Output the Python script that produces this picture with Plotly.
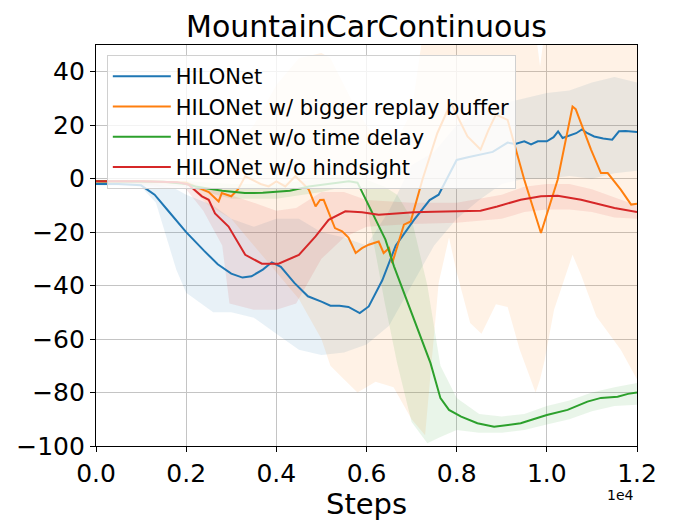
import plotly.graph_objects as go

# ---------------- data (steps in units of 1e4) ----------------
series_names = ["HILONet", "HILONet w/ bigger replay buffer",
                "HILONet w/o time delay", "HILONet w/o hindsight"]
series_colors = ["#1f77b4", "#ff7f0e", "#2ca02c", "#d62728"]
band_colors = ["rgba(31,119,180,0.1)", "rgba(255,127,14,0.1)",
               "rgba(44,160,44,0.1)", "rgba(214,39,40,0.1)"]

blue_x = [0, 0.05, 0.1, 0.13, 0.16, 0.2, 0.24, 0.27, 0.3, 0.325, 0.345, 0.37, 0.39, 0.41,
          0.44, 0.47, 0.5, 0.52, 0.54, 0.56, 0.585, 0.605, 0.635, 0.665, 0.705, 0.74, 0.76,
          0.8, 0.825, 0.85, 0.88, 0.913, 0.93, 0.95, 0.965, 0.98, 1.0, 1.015, 1.025, 1.035,
          1.05, 1.065, 1.078, 1.09, 1.105, 1.125, 1.145, 1.16, 1.175, 1.2]
blue_y = [-2, -2, -2.5, -6, -12, -20, -27, -32, -35.5, -37, -36.5, -34, -31.3, -33,
          -39, -44, -46, -47.5, -47.5, -48, -50.3, -47.8, -38, -25, -15.5, -8, -6,
          7, 8, 9, 10, 13.5, 13, 14, 12.8, 14, 14, 15.5, 17.7, 15.2,
          16, 17, 18.4, 17, 15.8, 15, 14.6, 17.7, 17.8, 17.5]
blue_band_x = [0, 0.1, 0.133, 0.178, 0.2, 0.26, 0.3, 0.35, 0.4, 0.45, 0.5, 0.55, 0.6,
               0.65, 0.7, 0.75, 0.8, 0.85, 0.9, 0.95, 1.0, 1.05, 1.1, 1.15, 1.2]
blue_lo = [-2.5, -3, -9, -34, -42.7, -50, -50, -52, -58, -64, -66, -65, -62,
           -55, -40, -25, -15, -8, -2, 0, 0, 1, 0, 2, 3]
blue_hi = [-1.5, -1, -2, -4, -6, -10, -15, -18, -15, -15, -20, -22, -25,
           -12, 5, 10, 20, 25, 28, 30, 32, 33, 36, 38, 36]

orange_x = [0, 0.1, 0.2, 0.22, 0.25, 0.272, 0.279, 0.3, 0.315, 0.331, 0.348, 0.365, 0.383,
            0.4, 0.42, 0.442, 0.46, 0.472, 0.487, 0.497, 0.505, 0.516, 0.53, 0.546, 0.56,
            0.576, 0.59, 0.605, 0.627, 0.638, 0.65, 0.657, 0.668, 0.683, 0.698, 0.705,
            0.724, 0.74, 0.757, 0.787, 0.805, 0.824, 0.853, 0.87, 0.887, 0.913, 0.95,
            0.987, 1.024, 1.057, 1.064, 1.098, 1.12, 1.135, 1.164, 1.187, 1.2]
orange_y = [-1, -1, -1.5, -3, -5, -8.5, -5.4, -6.6, -4, 0.9, -0.4, -2, -2.9,
            -1, -2.9, 0.9, -2, -4.1, -10.4, -8, -7.9, -12.8, -18.5, -19.7, -22,
            -27.8, -26, -24.7, -23.5, -27.8, -26, -31.6, -25.3, -17.2, -16, -11.6,
            -0.4, 8, 17, 28.3, 22, 15.8, 10.9, 18, 24, 22, -0.4,
            -20.3, -0.4, 27, 26, 10.9, 2.1, 2.1, -4.1, -9.7, -9.4]
orange_band_x = [0, 0.2, 0.25, 0.3, 0.35, 0.4, 0.45, 0.5, 0.52, 0.55, 0.58, 0.62, 0.66,
                 0.7, 0.73, 0.76, 0.783, 0.8, 0.83, 0.855, 0.887, 0.913, 0.94, 0.975,
                 0.985, 0.995, 1.016, 1.057, 1.076, 1.11, 1.164, 1.2]
orange_lo = [-1.5, -2, -10, -15, -25, -35, -45, -60, -70, -75, -80, -76, -78,
             -90, -96, -39, -22, -35, -54, -58, -47, -48, -64, -80,
             -75, -68, -49, -28.5, -36, -51.6, -64, -75]
orange_hi = [-0.5, 0, 2, 10, 20, 35, 45, 47, 45, 35, 25, 15, 12,
             25, 60, 60, 60, 60, 60, 60, 60, 60, 60, 55,
             42, 55, 60, 60, 60, 60, 60, 60]

green_x = [0, 0.1, 0.15, 0.2, 0.22, 0.28, 0.33, 0.37, 0.405, 0.43, 0.472, 0.52, 0.561,
           0.58, 0.613, 0.642, 0.661, 0.705, 0.742, 0.764, 0.783, 0.81, 0.846, 0.883,
           0.91, 0.942, 0.97, 1.0, 1.046, 1.09, 1.12, 1.157, 1.18, 1.2]
green_y = [-1, -1, -1.2, -2, -2.9, -4.5, -5.4, -5.3, -4.8, -4.5, -2.9, -2, -1,
           -1.5, -12.8, -22.8, -32.8, -52.8, -69, -82.1, -86.5, -89, -91.5, -92.8,
           -92.2, -91.5, -90, -88.4, -86.5, -83.4, -82, -81.6, -80.5, -80]
green_band_x = [0, 0.2, 0.3, 0.4, 0.5, 0.55, 0.594, 0.64, 0.668, 0.7, 0.735, 0.764, 0.8,
                0.85, 0.9, 0.95, 1.0, 1.05, 1.1, 1.15, 1.2]
green_lo = [-1.5, -3, -7.5, -7.5, -5, -3, -4, -46, -69, -91, -99, -96.6, -94,
            -95, -95, -94, -92, -90, -87, -85, -84.6]
green_hi = [-0.5, -1, -2, -2, 0, 1, 0, -3, -6, -15, -40, -70, -82,
            -88, -89, -88, -85, -83, -80, -78, -76.4]

red_x = [0, 0.1, 0.18, 0.205, 0.235, 0.25, 0.264, 0.294, 0.331, 0.368, 0.405, 0.45,
         0.487, 0.516, 0.553, 0.59, 0.627, 0.664, 0.705, 0.75, 0.816, 0.853, 0.89,
         0.942, 0.987, 1.024, 1.076, 1.15, 1.2]
red_y = [-1, -1, -1.3, -2.2, -6.6, -7.9, -13, -17.9, -28.5, -31.8, -31.8, -28.5,
         -21.6, -15.4, -12.2, -12.6, -13.5, -13, -12.6, -12.4, -12.2, -12, -10.4,
         -7.9, -6.6, -6.4, -7.9, -11, -12.5]
red_band_x = [0, 0.2, 0.238, 0.28, 0.296, 0.35, 0.4, 0.444, 0.473, 0.5, 0.55, 0.6,
              0.7, 0.8, 0.9, 0.95, 1.0, 1.05, 1.1, 1.15, 1.2]
red_lo = [-1.5, -4, -12, -25, -46.7, -49, -49, -46.7, -38, -30, -22, -18,
          -17, -16.5, -15, -12.5, -11.5, -11.5, -12.5, -14.5, -15]
red_hi = [-0.5, -1, -3, -5, -6, -9, -12, -11, -8, -5, -5, -8,
          -9, -9, -6, -3, -2, -2, -4, -7, -10]

means = [(blue_x, blue_y), (orange_x, orange_y), (green_x, green_y), (red_x, red_y)]
bands = [(blue_band_x, blue_lo, blue_hi), (orange_band_x, orange_lo, orange_hi),
         (green_band_x, green_lo, green_hi), (red_band_x, red_lo, red_hi)]

x_ticks = [0.0, 0.2, 0.4, 0.6, 0.8, 1.0, 1.2]
y_ticks = [-100, -80, -60, -40, -20, 0, 20, 40]

FONT = "DejaVu Sans"
# the page body has an 8px margin; figure size compensates so the chart fills 673x520
W, H = 665, 512
fig = go.Figure()

# shaded bands first
for (bx, lo, hi), fc in zip(bands, band_colors):
    fig.add_trace(go.Scatter(x=bx, y=lo, mode="lines", line=dict(width=0),
                             showlegend=False, hoverinfo="skip"))
    fig.add_trace(go.Scatter(x=bx, y=hi, mode="lines", line=dict(width=0),
                             fill="tonexty", fillcolor=fc,
                             showlegend=False, hoverinfo="skip"))

# mean lines
for (mx, my), name, col in zip(means, series_names, series_colors):
    fig.add_trace(go.Scatter(x=mx, y=my, mode="lines", name=name,
                             line=dict(color=col, width=2)))

axis_common = dict(showgrid=True, gridcolor="#c4c4c4", gridwidth=1.3,
                   showline=True, mirror=True, linecolor="black", linewidth=1.2,
                   ticks="outside", ticklen=5, tickcolor="black",
                   tickfont=dict(family=FONT, size=25, color="black"),
                   zeroline=False, automargin=False)

fig.update_layout(
    width=W, height=H,
    margin=dict(l=88, r=36, t=37, b=74),
    plot_bgcolor="white", paper_bgcolor="white",
    title=dict(text="MountainCarContinuous", x=0.5, xref="paper", xanchor="center",
               y=1 - 18 / H, yanchor="middle",
               font=dict(family=FONT, size=30, color="black")),
    xaxis=dict(range=[0, 1.2], tickvals=x_ticks, tickformat=".1f", **axis_common),
    yaxis=dict(range=[-100, 50], tickvals=y_ticks, **axis_common),
    legend=dict(x=0.02, y=0.975, xanchor="left", yanchor="top", traceorder="normal",
                itemwidth=58,
                bgcolor="rgba(255,255,255,0.8)", bordercolor="#d0d0d0", borderwidth=1,
                font=dict(family=FONT, size=21, color="black")),
    showlegend=True,
    annotations=[
        dict(text="Steps", xref="paper", yref="paper", x=0.5, y=-0.145,
             xanchor="center", yanchor="middle", showarrow=False,
             font=dict(family=FONT, size=29, color="black")),
        dict(text="1e4", xref="paper", yref="paper", x=0.97, y=-0.122,
             xanchor="center", yanchor="middle", showarrow=False,
             font=dict(family=FONT, size=14, color="black")),
    ],
)

fig.write_html("out.html")
